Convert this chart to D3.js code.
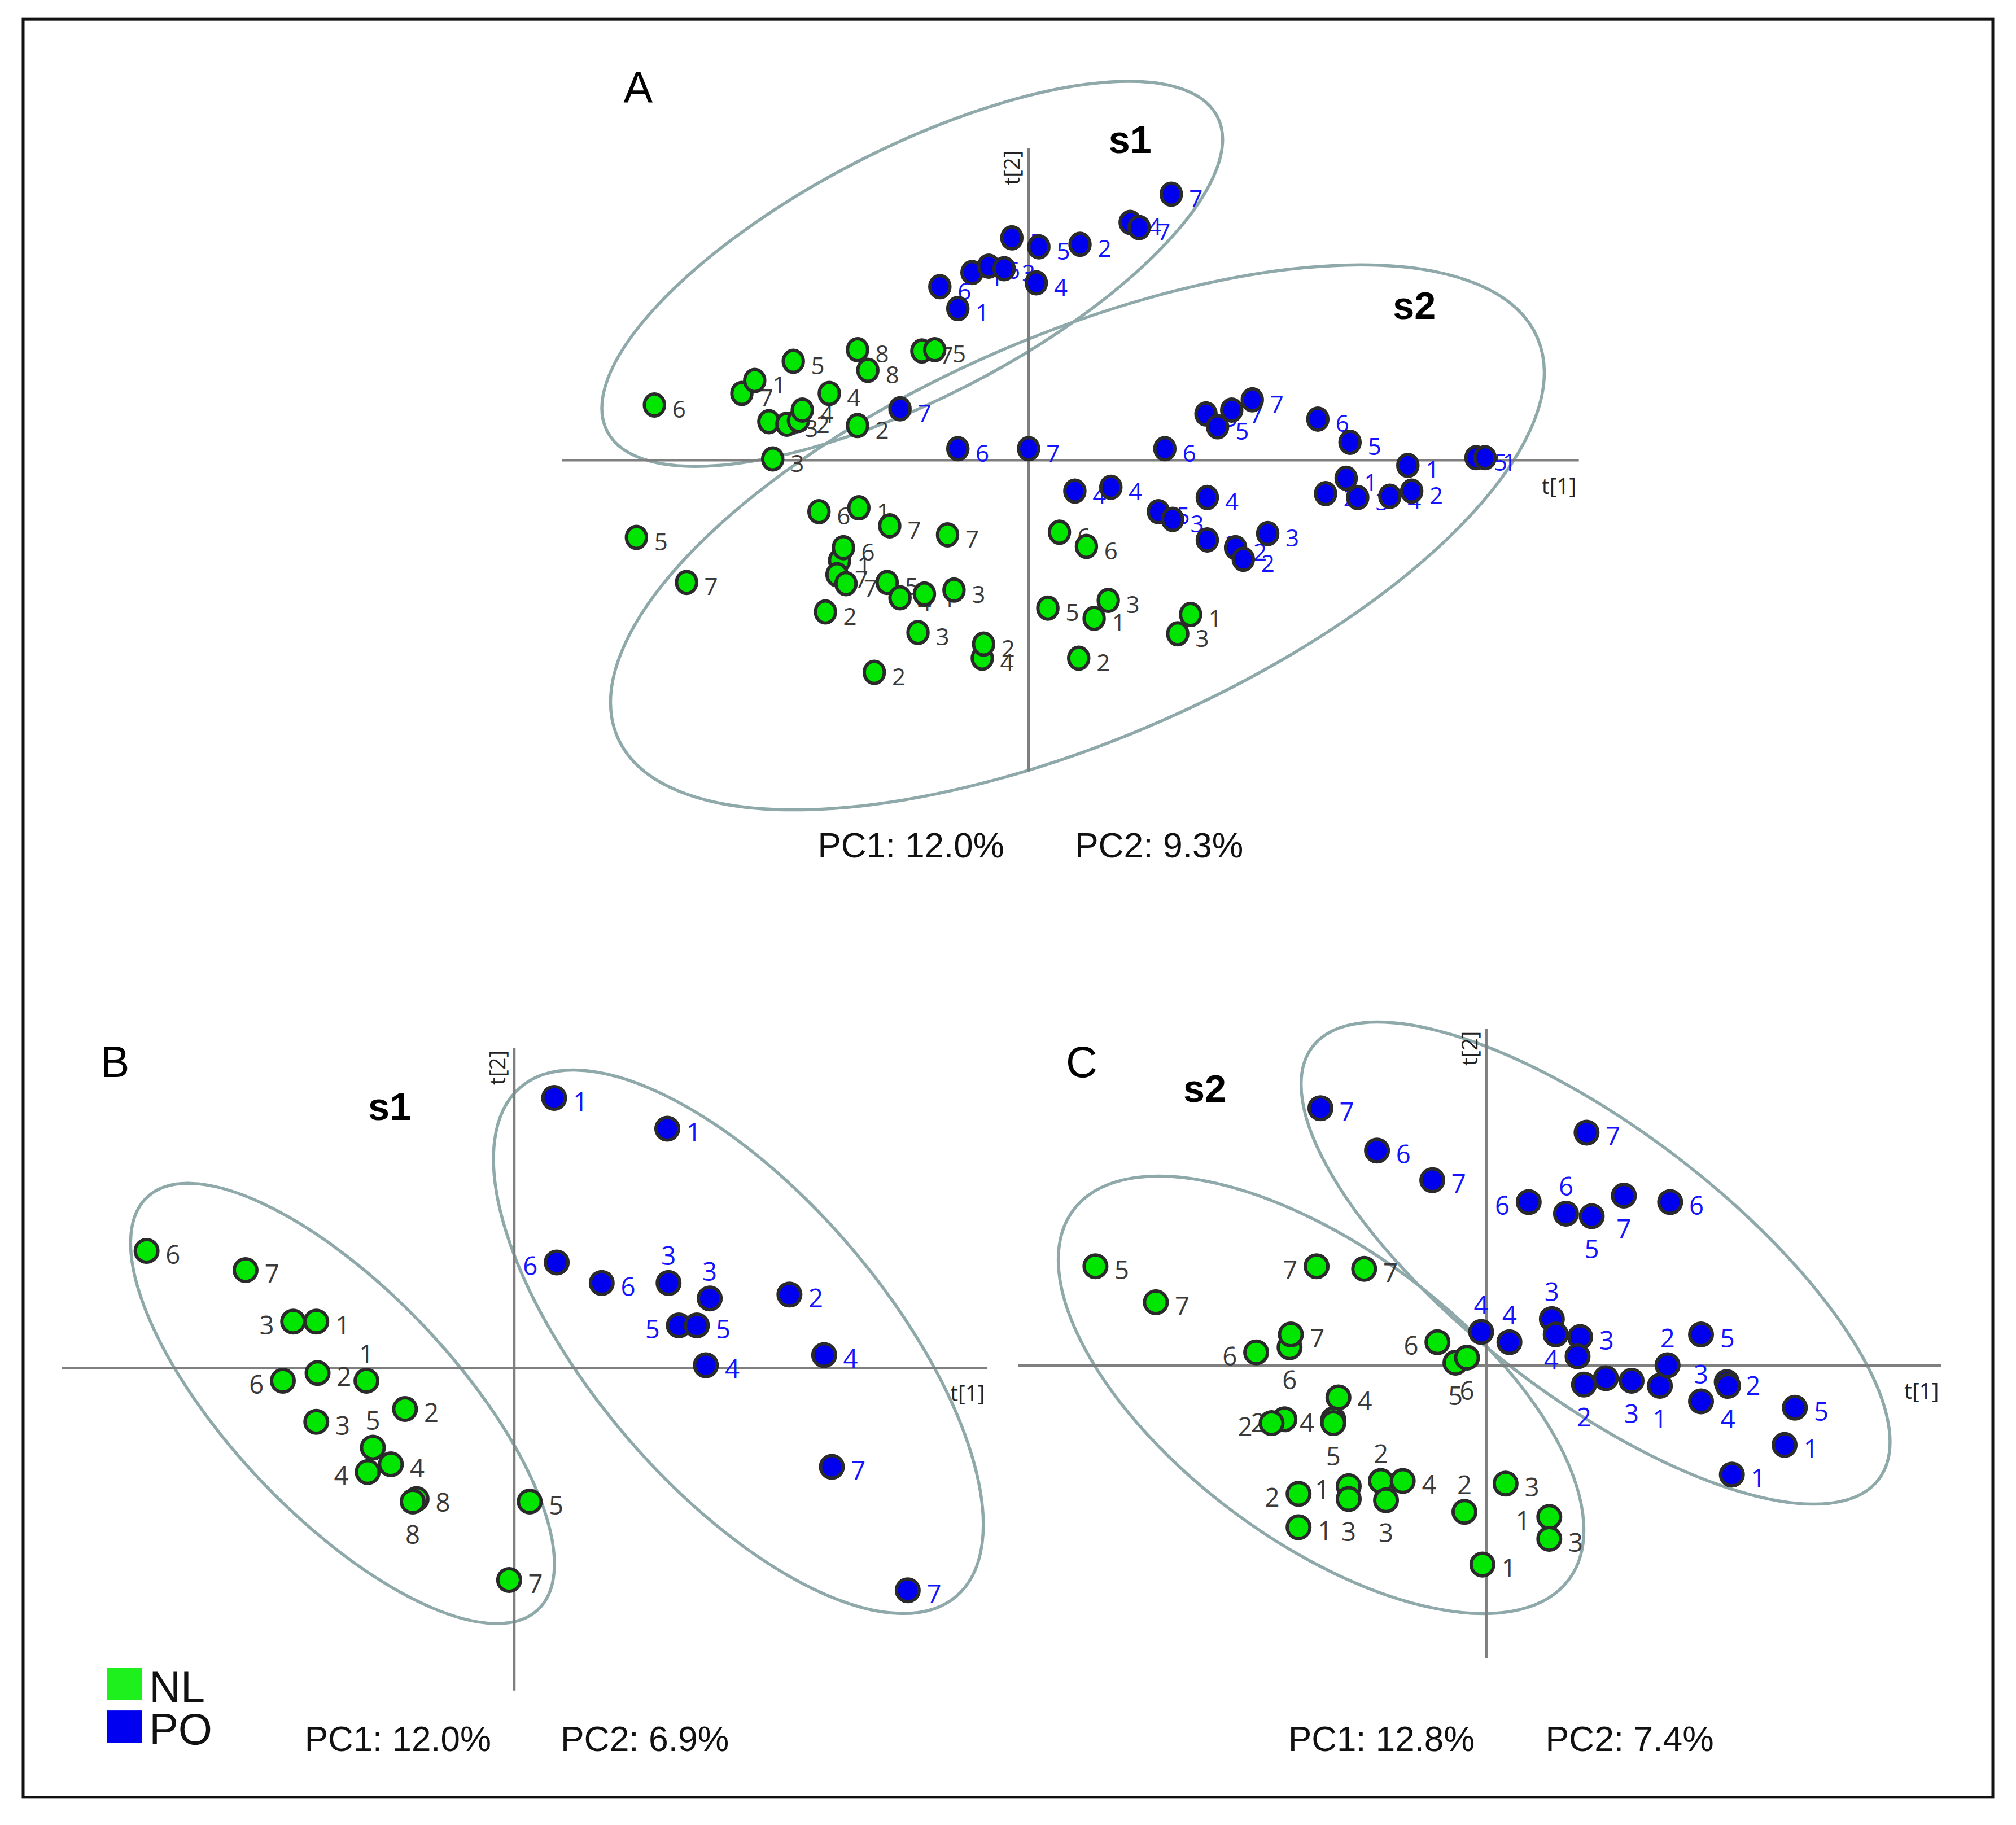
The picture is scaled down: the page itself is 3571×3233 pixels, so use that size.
<!DOCTYPE html>
<html>
<head>
<meta charset="utf-8">
<script src="https://cdn.jsdelivr.net/npm/d3@7/dist/d3.min.js"></script>
<style>
  html, body { margin: 0; padding: 0; background: #fff; }
</style>
</head>
<body>
<div id="chart"></div>
<script>
// Score values [t1, t2, label, labelSide]  (side: r, l, t, b)
const groups = ["NL", "PO"];

const scoresA_NL = [
  [-29.1, 4.3, "6", "r"], [-22.3, 5.2, "7", "r"], [-21.3, 6.2, "1", "r"], [-18.3, 7.7, "5", "r"],
  [-13.3, 8.6, "8", "r"], [-12.5, 7.0, "8", "r"], [-8.3, 8.5, "7", "r"], [-7.3, 8.6, "5", "r"],
  [-15.5, 5.2, "4", "r"], [-20.2, 3.0, "8", "r"], [-18.8, 2.8, "3", "r"], [-17.9, 3.1, "2", "r"],
  [-17.6, 3.9, "4", "r"], [-13.3, 2.7, "2", "r"], [-19.9, 0.1, "3", "r"], [-30.5, -6.0, "5", "r"],
  [-26.6, -9.5, "7", "r"], [-16.3, -4.0, "6", "r"], [-13.2, -3.7, "1", "r"], [-10.8, -5.1, "7", "r"],
  [-6.3, -5.8, "7", "r"], [-14.7, -7.8, "1", "r"], [-14.9, -8.9, "7", "r"], [-14.4, -6.8, "6", "r"],
  [-14.2, -9.6, "7", "r"], [-11.0, -9.5, "5", "r"], [-10.0, -10.7, "4", "r"], [-8.1, -10.4, "1", "r"],
  [-5.8, -10.1, "3", "r"], [-15.8, -11.8, "2", "r"], [-8.6, -13.4, "3", "r"], [-3.6, -15.4, "4", "r"],
  [-3.5, -14.3, "2", "r"], [-12.0, -16.5, "2", "r"], [2.4, -5.6, "6", "r"], [4.5, -6.7, "6", "r"],
  [1.5, -11.5, "5", "r"], [5.1, -12.3, "1", "r"], [6.2, -10.9, "3", "r"], [12.6, -12.0, "1", "r"],
  [11.6, -13.5, "3", "r"], [3.9, -15.4, "2", "r"]
];
const scoresA_PO = [
  [11.1, 20.7, "7", "r"], [7.9, 18.5, "4", "r"], [8.6, 18.1, "7", "r"], [-1.3, 17.3, "5", "r"],
  [0.8, 16.6, "5", "r"], [4.0, 16.8, "2", "r"], [-4.4, 14.6, "1", "r"], [-3.1, 15.1, "6", "r"],
  [-1.9, 14.9, "3", "r"], [0.6, 13.8, "4", "r"], [-6.9, 13.5, "6", "r"], [-5.5, 11.8, "1", "r"],
  [-10.0, 4.0, "7", "r"], [-5.5, 0.9, "6", "r"], [0.0, 0.9, "7", "r"], [10.6, 0.9, "6", "r"],
  [13.8, 3.6, "5", "r"], [14.7, 2.6, "5", "r"], [15.8, 3.9, "7", "r"], [17.4, 4.7, "7", "r"],
  [22.5, 3.2, "6", "r"], [25.0, 1.4, "5", "r"], [29.5, -0.4, "1", "r"], [34.8, 0.2, "5", "r"],
  [35.5, 0.2, "1", "r"], [23.1, -2.6, "2", "r"], [24.7, -1.4, "1", "r"], [25.6, -2.9, "3", "r"],
  [28.1, -2.8, "4", "r"], [29.8, -2.4, "2", "r"], [3.6, -2.4, "4", "r"], [6.4, -2.1, "4", "r"],
  [10.1, -4.0, "5", "r"], [11.2, -4.6, "3", "r"], [13.9, -2.9, "4", "r"], [13.9, -6.2, "2", "r"],
  [16.1, -6.8, "2", "r"], [16.7, -7.7, "2", "r"], [18.6, -5.7, "3", "r"]
];

const scoresB_NL = [
  [-28.6, 9.1, "6", "r"], [-20.9, 7.6, "7", "r"], [-17.2, 3.6, "3", "l"], [-15.4, 3.6, "1", "r"],
  [-15.3, -0.4, "2", "r"], [-18.0, -1.0, "6", "l"], [-11.5, -1.0, "1", "t"], [-8.5, -3.2, "2", "r"],
  [-15.4, -4.2, "3", "r"], [-11.0, -6.2, "5", "t"], [-9.6, -7.5, "4", "r"], [-11.4, -8.1, "4", "l"],
  [-7.6, -10.2, "8", "r"], [-7.9, -10.4, "8", "b"], [1.2, -10.4, "5", "r"], [-0.4, -16.5, "7", "r"]
];
const scoresB_PO = [
  [3.1, 21.0, "1", "r"], [11.9, 18.6, "1", "r"], [3.3, 8.2, "6", "l"], [6.8, 6.6, "6", "r"],
  [12.0, 6.6, "3", "t"], [15.2, 5.4, "3", "t"], [21.4, 5.7, "2", "r"], [12.8, 3.3, "5", "l"],
  [14.2, 3.3, "5", "r"], [14.9, 0.2, "4", "r"], [24.1, 1.0, "4", "r"], [24.7, -7.7, "7", "r"],
  [30.6, -17.3, "7", "r"]
];

const scoresC_NL = [
  [-30.4, 7.7, "5", "r"], [-25.7, 4.9, "7", "r"], [-13.2, 7.7, "7", "l"], [-9.5, 7.5, "7", "r"],
  [-15.3, 1.4, "6", "b"], [-15.2, 2.4, "7", "r"], [-17.9, 1.0, "6", "l"], [-3.8, 1.8, "6", "l"],
  [-2.4, 0.2, "5", "b"], [-1.5, 0.6, "6", "b"], [-11.5, -2.5, "4", "r"], [-15.7, -4.2, "2", "l"],
  [-16.7, -4.5, "2", "l"], [-11.9, -4.2, "4", "l"], [-11.9, -4.5, "5", "b"], [-10.7, -9.4, "1", "l"],
  [-10.7, -10.4, "3", "b"], [-8.2, -9.0, "2", "t"], [-6.5, -9.0, "4", "r"], [-7.8, -10.5, "3", "b"],
  [-14.6, -10.0, "2", "l"], [-14.6, -12.6, "1", "r"], [-1.7, -11.4, "2", "t"], [1.5, -9.2, "3", "r"],
  [-0.3, -15.5, "1", "r"], [4.9, -11.8, "1", "l"], [4.9, -13.5, "3", "r"]
];
const scoresC_PO = [
  [-12.9, 20.0, "7", "r"], [-8.5, 16.7, "6", "r"], [-4.2, 14.4, "7", "r"], [7.8, 18.1, "7", "r"],
  [3.3, 12.7, "6", "l"], [6.2, 11.8, "6", "t"], [8.2, 11.6, "5", "b"], [10.7, 13.2, "7", "b"],
  [14.3, 12.7, "6", "r"], [-0.4, 2.6, "4", "t"], [1.8, 1.8, "4", "t"], [5.1, 3.6, "3", "t"],
  [5.4, 2.4, "3", "r"], [7.3, 2.2, "3", "r"], [7.1, 0.7, "4", "l"], [7.6, -1.5, "2", "b"],
  [9.3, -1.0, "2", "r"], [11.3, -1.2, "3", "b"], [13.5, -1.6, "1", "b"], [14.1, 0.0, "2", "t"],
  [16.7, 2.4, "5", "r"], [16.7, -2.8, "3", "t"], [18.7, -1.3, "2", "r"], [18.8, -1.6, "4", "b"],
  [24.0, -3.3, "5", "r"], [23.2, -6.2, "1", "r"], [19.1, -8.5, "1", "r"]
];

// Hotelling ellipses [cx, cy, semiMajor, semiMinor, angleDeg]
const ellipsesA = [[-9.05, 14.5, 26.7, 9.7, 27.3], [3.8, -6.0, 39.0, 15.7, 23.5]];
const ellipsesB = [[-13.36, -2.77, 22.1, 8.74, -46.5], [17.43, 2.03, 26.06, 11.42, -49.4]];
const ellipsesC = [[-12.85, -2.3, 24.04, 11.37, -36.7], [8.5, 7.95, 27.71, 10.4, -37.4]];

const varianceA = ["PC1: 12.0%", "PC2: 9.3%"];
const varianceB = ["PC1: 12.0%", "PC2: 6.9%"];
const varianceC = ["PC1: 12.8%", "PC2: 7.4%"];

const W = 3571, H = 3233;
const K = W / 1568;   // layout is laid out on a 1568-wide grid, then scaled

const green = "#00e600", blue = "#0000ee";
const labelFont = "'Open Sans', 'DejaVu Sans', sans-serif";
const plainFont = "'Liberation Sans', Arial, sans-serif";

const svg = d3.select("#chart").append("svg")
  .attr("width", W).attr("height", H)
  .attr("viewBox", `0 0 ${W} ${H}`);

const root = svg.append("g").attr("transform", `scale(${K})`);

// outer frame
root.append("rect")
  .attr("x", 18).attr("y", 15).attr("width", 1532).attr("height", 1383)
  .attr("fill", "none").attr("stroke", "#111").attr("stroke-width", 2.2);

function drawPanel(p) {
  const x = d3.scaleLinear().domain(p.xDomain).range(p.xRange);
  const y = d3.scaleLinear().domain(p.yDomain).range(p.yRange);
  const unit = Math.abs(x(1) - x(0));
  const g = root.append("g");

  // ellipses
  g.selectAll("ellipse.conf")
    .data(p.ellipses)
    .enter()
    .append("ellipse")
    .attr("class", "conf")
    .attr("cx", d => x(d[0]))
    .attr("cy", d => y(d[1]))
    .attr("rx", d => d[2] * unit)
    .attr("ry", d => d[3] * unit)
    .attr("transform", d => `rotate(${-d[4]},${x(d[0])},${y(d[1])})`)
    .attr("fill", "none")
    .attr("stroke", "#8fa9aa")
    .attr("stroke-width", 2.4);

  // axes through origin
  g.append("line")
    .attr("x1", x.range()[0]).attr("x2", x.range()[1])
    .attr("y1", y(0)).attr("y2", y(0))
    .attr("stroke", "#7f7f7f").attr("stroke-width", 2);
  g.append("line")
    .attr("x1", x(0)).attr("x2", x(0))
    .attr("y1", y.range()[0]).attr("y2", y.range()[1])
    .attr("stroke", "#7f7f7f").attr("stroke-width", 2);

  g.append("text")
    .attr("x", x.range()[1] - 2).attr("y", y(0) + 26)
    .attr("text-anchor", "end")
    .style("font-family", labelFont).style("font-size", "17px").style("fill", "#222")
    .text("t[1]");
  g.append("text")
    .attr("transform", `translate(${x(0) - 7},${y.range()[1] + 2}) rotate(-90)`)
    .attr("text-anchor", "end")
    .style("font-family", labelFont).style("font-size", "17px").style("fill", "#222")
    .text("t[2]");

  // points, each followed by its label
  const gap = p.r + 6;
  const sets = [
    { data: p.nl, fill: green, text: "#3a3a3a" },
    { data: p.po, fill: blue, text: "#1414ff" }
  ];
  sets.forEach(s => {
    const pt = g.append("g").selectAll("g")
      .data(s.data)
      .enter()
      .append("g");
    pt.append("ellipse")
      .attr("cx", d => x(d[0]))
      .attr("cy", d => y(d[1]))
      .attr("rx", p.r)
      .attr("ry", p.r * p.squash)
      .attr("fill", s.fill)
      .attr("stroke", "#2a2a2a")
      .attr("stroke-width", 2.6);
    pt.append("text")
      .attr("x", d => x(d[0]) + ({ r: gap, l: -gap, t: 0, b: 0 })[d[3]])
      .attr("y", d => y(d[1]) + ({ r: 10, l: 10, t: -(p.r + 5), b: p.r + 24 })[d[3]])
      .attr("text-anchor", d => ({ r: "start", l: "end", t: "middle", b: "middle" })[d[3]])
      .style("font-family", labelFont)
      .style("font-size", p.fs + "px")
      .style("fill", s.text)
      .text(d => d[2]);
  });

  // panel letter, cluster name, explained variance
  g.append("text")
    .attr("x", p.letterPos[0]).attr("y", p.letterPos[1])
    .style("font-family", plainFont).style("font-size", "34px").style("fill", "#000")
    .text(p.letter);
  g.append("text")
    .attr("x", p.namePos[0]).attr("y", p.namePos[1])
    .attr("text-anchor", "middle")
    .style("font-family", plainFont).style("font-size", "30px").style("font-weight", "bold")
    .style("fill", "#000")
    .text(p.name);
  p.variance.forEach((v, i) => {
    g.append("text")
      .attr("x", p.varPos[i]).attr("y", p.varY)
      .attr("textLength", i === 0 ? 145 : 131)
      .attr("lengthAdjust", "spacingAndGlyphs")
      .style("font-family", plainFont).style("font-size", "27.5px").style("fill", "#111")
      .text(v);
  });
}

drawPanel({
  xDomain: [-36.3, 42.8], xRange: [437, 1228],
  yDomain: [-24.2, 24.3], yRange: [600, 115],
  ellipses: ellipsesA, nl: scoresA_NL, po: scoresA_PO,
  r: 7.8, squash: 1.1, fs: 18.5,
  letter: "A", letterPos: [485, 80], name: "s1", namePos: [879, 119],
  variance: varianceA, varPos: [636, 836], varY: 667
});
// s2 label of panel A
root.append("text")
  .attr("x", 1100).attr("y", 248).attr("text-anchor", "middle")
  .style("font-family", plainFont).style("font-size", "30px").style("font-weight", "bold")
  .text("s2");

drawPanel({
  xDomain: [-35.2, 36.8], xRange: [48, 768],
  yDomain: [-25.1, 24.9], yRange: [1315, 815],
  ellipses: ellipsesB, nl: scoresB_NL, po: scoresB_PO,
  r: 8.8, squash: 1.0, fs: 20,
  letter: "B", letterPos: [78, 838], name: "s1", namePos: [303, 871],
  variance: varianceB, varPos: [237, 436], varY: 1362
});

drawPanel({
  xDomain: [-36.4, 35.4], xRange: [792, 1510],
  yDomain: [-22.8, 26.2], yRange: [1290, 800],
  ellipses: ellipsesC, nl: scoresC_NL, po: scoresC_PO,
  r: 8.8, squash: 1.0, fs: 20,
  letter: "C", letterPos: [829, 838], name: "s2", namePos: [937, 857],
  variance: varianceC, varPos: [1002, 1202], varY: 1362
});

// legend
const legend = root.append("g");
groups.forEach((name, i) => {
  legend.append("rect")
    .attr("x", 83).attr("y", 1297.5 + i * 33)
    .attr("width", 27.5).attr("height", 25)
    .attr("fill", i === 0 ? "#1ef01e" : "#0000f0");
  legend.append("text")
    .attr("x", 116).attr("y", 1324 + i * 33)
    .style("font-family", plainFont).style("font-size", "34px").style("fill", "#111")
    .text(name);
});
</script>
</body>
</html>
